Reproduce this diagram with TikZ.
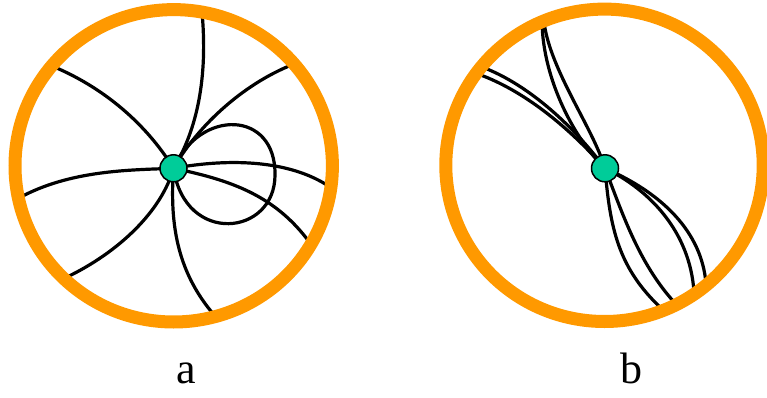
\documentclass[tikz,border=0pt]{standalone}
\usepackage{fontspec}
\setmainfont{Liberation Serif}
\definecolor{ringorange}{RGB}{255,153,0}
\definecolor{hubgreen}{RGB}{0,204,153}
\begin{document}
\begin{tikzpicture}[x=1pt,y=-1pt,
  wire/.style={line width=3.2pt,line cap=round,line join=round},
  ringline/.style={draw=ringorange,line width=13pt},
  hub/.style={circle,draw=black,line width=1.5pt,fill=hubgreen,minimum size=27pt,inner sep=0pt},
  lbl/.style={font=\fontsize{44}{50}\selectfont,anchor=base}]
\useasboundingbox (0,0) rectangle (767,398);
\clip (0,0) rectangle (767,398);

% ---- diagram a ----
\coordinate (ca) at (173.5,168.3);
\coordinate (ra) at (173.7,165.8);
\coordinate (a1) at (202,12);
\coordinate (a2) at (294,64);
\coordinate (a4) at (330,187);
\coordinate (a5) at (310,243);
\coordinate (a6) at (215,316);
\coordinate (a7) at (65,278);
\coordinate (a8) at (19,198);
\coordinate (a9) at (52,66);
\coordinate (aloop) at (275,175);

\draw[wire] (ca) .. controls (197,130) and (208,78) .. (a1);
\draw[wire] (ca) .. controls (195,130) and (240,85) .. (a2);
\draw[wire] (ca) .. controls (200,108) and (276,110) .. (aloop)
                 .. controls (275,236) and (185,246) .. (ca);
\draw[wire] (ca) .. controls (230,158) and (290,160) .. (a4);
\draw[wire] (ca) .. controls (230,180) and (275,195) .. (a5);
\draw[wire] (ca) .. controls (170,220) and (175,270) .. (a6);
\draw[wire] (ca) .. controls (162,210) and (120,252) .. (a7);
\draw[wire] (ca) .. controls (130,170) and (70,170) .. (a8);
\draw[wire] (ca) .. controls (150,130) and (110,90) .. (a9);

\draw[ringline] (ra) ellipse [x radius=158.7, y radius=156.2];
\node[hub] (na) at (ca) {};

% ---- diagram b ----
\coordinate (cb) at (605,168.3);
\coordinate (rb) at (604.5,165.3);
\coordinate (b1) at (482,67);
\coordinate (b2) at (478,74);
\coordinate (b3) at (542,22);
\coordinate (b4) at (544,22);
\coordinate (b5) at (662,309);
\coordinate (b6) at (674,302);
\coordinate (b7) at (694,292);
\coordinate (b8) at (706,284);

\draw[wire] (cb) .. controls (575,128) and (530,85) .. (b1);
\draw[wire] (cb) .. controls (573,132) and (528,92) .. (b2);
\draw[wire] (cb) .. controls (575,140) and (543,80) .. (b3);
\draw[wire] (cb) .. controls (593,128) and (550,70) .. (b4);
\draw[wire] (cb) .. controls (610,228) and (618,268) .. (b5);
\draw[wire] (cb) .. controls (622,212) and (638,262) .. (b6);
\draw[wire] (cb) .. controls (650,190) and (690,232) .. (b7);
\draw[wire] (cb) .. controls (662,193) and (702,232) .. (b8);

\draw[ringline] (rb) ellipse [x radius=158.7, y radius=156.2];
\node[hub] (nb) at (cb) {};

% ---- labels ----
\node[lbl] (la) at (186,383) {a};
\node[lbl] (lb) at (631,383) {b};
\end{tikzpicture}
\end{document}
